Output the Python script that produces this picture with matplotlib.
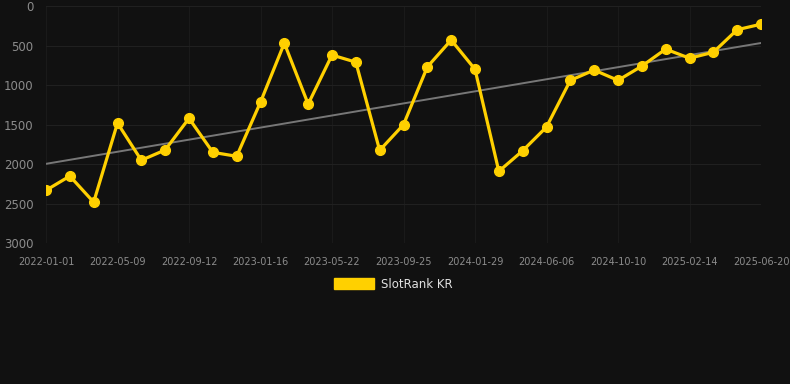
import matplotlib
matplotlib.use("Agg")
import matplotlib.pyplot as plt
import numpy as np
from matplotlib.patches import Patch

tick_labels = ["2022-01-01", "2022-05-09", "2022-09-12", "2023-01-16", "2023-05-22",
               "2023-09-25", "2024-01-29", "2024-06-06", "2024-10-10", "2025-02-14",
               "2025-06-20"]
ranks = [2330, 2150, 2480, 1480, 1950, 1820, 1420, 1850, 1900, 1215,
         470, 1240, 620, 710, 1825, 1500, 770, 430, 800, 2090,
         1830, 1530, 940, 810, 940, 760, 545, 660, 585, 300, 230]
series_name = "SlotRank KR"

bg = "#111111"
gold = "#FFD000"

W, H = 790, 384
fig = plt.figure(figsize=(W / 100, H / 100), dpi=100, facecolor=bg)
ax = fig.add_axes([46 / W, 1 - 243.3 / H, (761 - 46) / W, (243.3 - 6) / H], facecolor=bg)

x = np.arange(len(ranks))
ax.plot(x, ranks, color=gold, lw=2.3, marker="o", ms=7, mfc=gold, mec=gold,
        label=series_name, zorder=3, solid_joinstyle="round")

coef = np.polyfit(x, ranks, 1)
ax.plot(x, np.polyval(coef, x), color="#777777", lw=1.4, zorder=2)

ax.set_xlim(0, len(ranks) - 1)
ax.set_ylim(3000, 0)
ax.set_yticks(np.arange(0, 3001, 500))
tick_pos = x[::3]
ax.set_xticks(tick_pos)
ax.set_xticklabels(tick_labels)

ax.grid(True, axis="y", color="#202020", lw=0.8)
ax.grid(True, axis="x", color="#1a1a1a", lw=0.8)
ax.set_axisbelow(True)
for s in ax.spines.values():
    s.set_visible(False)
ax.tick_params(axis="y", length=0, pad=9, labelsize=8.5, labelcolor="#8c8c8c")
ax.tick_params(axis="x", length=0, pad=10, labelsize=7, labelcolor="#8c8c8c")

handle = Patch(facecolor=gold, edgecolor=gold)
leg = fig.legend([handle], [series_name], loc="center", bbox_to_anchor=(393 / W, 1 - 284 / H),
                 frameon=False, handlelength=3.4, handleheight=1.1, fontsize=8.5,
                 labelcolor="#e0e0e0", handletextpad=0.55)

fig.savefig("out.png", dpi=100, facecolor=bg)
